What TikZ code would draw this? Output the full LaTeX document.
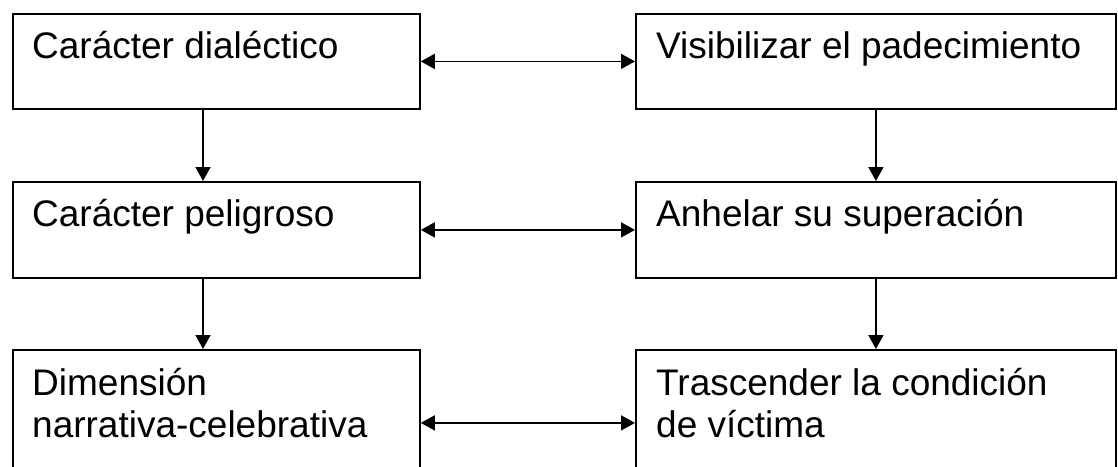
\documentclass[tikz,border=0pt]{standalone}
\usepackage{fontspec}
\setmainfont{Liberation Sans}
\usetikzlibrary{arrows.meta}
\begin{document}
\begin{tikzpicture}[x=1pt,y=-1pt,
  boxL/.style={draw=black,line width=1.8pt,minimum width=407pt,anchor=north west,inner sep=0pt},
  boxR/.style={draw=black,line width=1.8pt,minimum width=480pt,anchor=north west,inner sep=0pt},
  lbl/.style={anchor=base west,inner sep=0pt,align=left,font=\fontsize{37pt}{42pt}\selectfont},
  conn/.style={line width=1.6pt,-{Triangle[length=14pt,width=15pt]}},
  dconn/.style={line width=1.6pt,{Triangle[length=14pt,width=15pt]}-{Triangle[length=14pt,width=15pt]}}]
\useasboundingbox (0,0) rectangle (1118,466);
\clip (0,0) rectangle (1118,466);
% boxes
\node[boxL,minimum height=95pt] (a1) at (12,13) {};
\node[boxR,minimum height=95pt] (b1) at (635,13) {};
\node[boxL,minimum height=96pt] (a2) at (12,181) {};
\node[boxR,minimum height=96pt] (b2) at (635,181) {};
\node[boxL,minimum height=146pt] (a3) at (12,349) {};
\node[boxR,minimum height=146pt] (b3) at (635,349) {};
% texts
\node[lbl] (ta1) at (32,58) {Carácter dialéctico};
\node[lbl] (tb1) at (656,58) {Visibilizar el padecimiento};
\node[lbl] (ta2) at (32,226) {Carácter peligroso};
\node[lbl] (tb2) at (656,226) {Anhelar su superación};
\node[lbl] (ta3) at (32,437) {Dimensión\\narrativa-celebrativa};
\node[lbl] (tb3) at (656,437) {Trascender la condición\\de víctima};
% connectors
\draw[dconn] (a1.east) -- (b1.west);
\draw[dconn] (a2.east) -- (b2.west);
\draw[dconn] (a3.east) -- (b3.west);
\draw[conn] ([xshift=191pt]a1.south west) -- ([xshift=191pt]a2.north west);
\draw[conn] ([xshift=191pt]a2.south west) -- ([xshift=191pt]a3.north west);
\draw[conn] (b1.south) -- (b2.north);
\draw[conn] (b2.south) -- (b3.north);
\end{tikzpicture}
\end{document}
